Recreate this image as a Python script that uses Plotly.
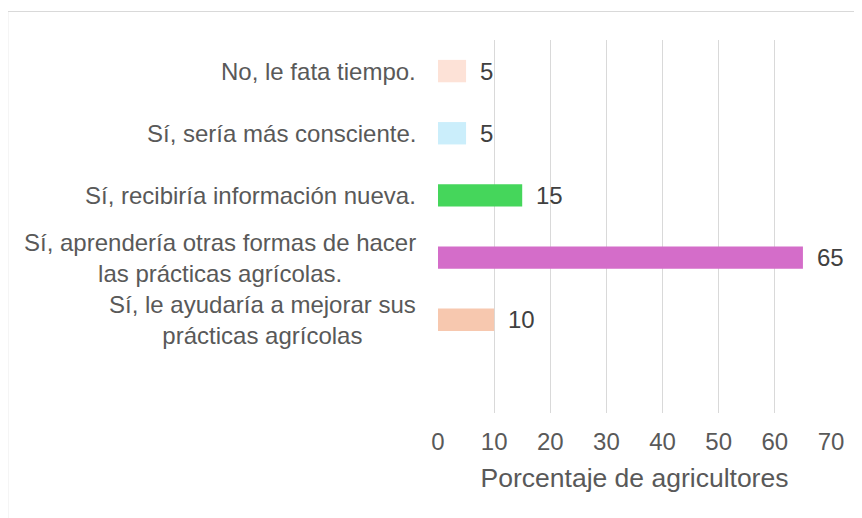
import plotly.graph_objects as go

# bottom -> top
categories = [
    "Sí, le ayudaría a mejorar sus<br>prácticas agrícolas",
    "Sí, aprendería otras formas de hacer<br>las prácticas agrícolas.",
    "Sí, recibiría información nueva.",
    "Sí, sería más consciente.",
    "No, le fata tiempo.",
]
values = [10, 65, 15, 5, 5]
colors = ["#F7C8AF", "#D46DC9", "#45D65B", "#CBEEFB", "#FDE2D7"]
x_ticks = [0, 10, 20, 30, 40, 50, 60, 70]

FONT = "Liberation Sans, Arial, sans-serif"
TEXT = "#595959"

fig = go.Figure(
    go.Bar(
        x=values,
        y=categories,
        orientation="h",
        marker=dict(color=colors, line=dict(width=0)),
        width=0.36,
        hoverinfo="skip",
    )
)

# category labels: block right-aligned to the axis, lines centered
for cat in categories:
    fig.add_annotation(
        x=0, xref="paper", y=cat, yref="y", text=cat, showarrow=False,
        xanchor="right", align="center", xshift=-20,
        font=dict(family=FONT, size=24, color=TEXT),
    )

# value labels
for cat, v in zip(categories, values):
    fig.add_annotation(
        x=v, y=cat, text=str(v), showarrow=False, xanchor="left", xshift=12,
        font=dict(family=FONT, size=24, color="#404040"),
    )

# outer chart border
fig.add_shape(
    type="rect", xref="paper", yref="paper",
    x0=-1.095, y0=-0.6, x1=1.3, y1=1.0764,
    line=dict(color="#D9D9D9", width=1.2), layer="below",
)

# the page body adds an 8px offset, so margins are shifted by 8
fig.update_layout(
    width=862, height=518,
    margin=dict(l=430, r=39, t=32, b=113),
    plot_bgcolor="white", paper_bgcolor="white",
    showlegend=False,
    font=dict(family=FONT, color=TEXT),
)
fig.update_xaxes(
    range=[0, 70], tickvals=x_ticks, showgrid=True, gridcolor="#D9D9D9", gridwidth=1.4,
    zeroline=False, showline=False, ticks="", ticklabelstandoff=12,
    tickfont=dict(family=FONT, size=24, color=TEXT),
    title=dict(text="Porcentaje de agricultores", font=dict(family=FONT, size=26.5, color=TEXT), standoff=14),
)
fig.update_yaxes(
    categoryorder="array", categoryarray=categories, range=[-1.5, 4.5],
    showticklabels=False, showgrid=False, zeroline=False, showline=False, ticks="",
)

fig.write_html("out.html")
